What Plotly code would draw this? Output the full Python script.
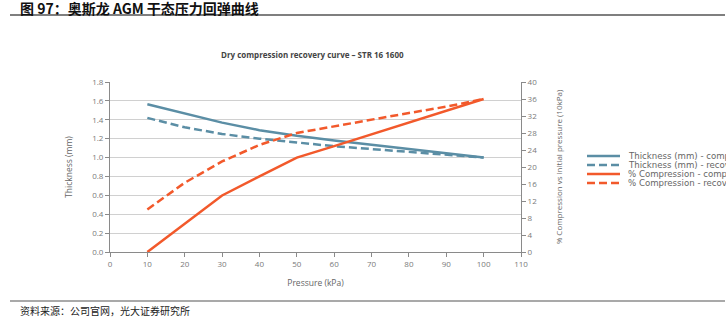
import plotly.graph_objects as go

pressure = [10, 20, 30, 40, 50, 60, 70, 80, 90, 100]
thick_comp = [1.565, 1.47, 1.37, 1.29, 1.23, 1.18, 1.135, 1.09, 1.05, 1.0]
thick_reco = [1.42, 1.32, 1.25, 1.20, 1.16, 1.12, 1.09, 1.06, 1.03, 1.0]
pct_comp = [0.0, 6.7, 13.3, 17.8, 22.2, 24.9, 27.7, 30.5, 33.2, 36.0]
pct_reco = [10.0, 16.3, 21.3, 25.2, 28.0, 29.6, 31.1, 32.7, 34.2, 36.0]

names = ["Thickness (mm) - compression", "Thickness (mm) - recovery",
         "% Compression - compression", "% Compression - recovery"]

BLUE = "#5b8ea5"
ORANGE = "#f2592b"
GRID = "#d0d0d0"
AX = "#8a8a8a"
TICK = "#7a7a7a"
FONT = "Open Sans"
DASH = "8px,4px"

L, R, T, B = 110, 521, 82, 252
W, H = 726, 326
pw, ph = R - L, B - T

def px(x):
    return (x - L) / pw

def py(y):
    return (B - y) / ph

fig = go.Figure()
series = [(thick_comp, "y", BLUE, None), (thick_reco, "y", BLUE, DASH),
          (pct_comp, "y2", ORANGE, None), (pct_reco, "y2", ORANGE, DASH)]
for (vals, ax, col, dash), nm in zip(series, names):
    fig.add_trace(go.Scatter(x=pressure, y=vals, name=nm, mode="lines", yaxis=ax,
                             line=dict(color=col, width=2.5, dash=dash)))

fig.update_layout(
    width=W, height=H,
    margin=dict(l=L, r=W - R, t=T, b=H - B, pad=0),
    paper_bgcolor="white", plot_bgcolor="white",
    font=dict(family=FONT, size=8, color=TICK),
    showlegend=False,
    xaxis=dict(range=[0, 110], tickvals=list(range(0, 111, 10)),
               showgrid=False, zeroline=False, showline=True, linecolor=AX, linewidth=1,
               ticks="outside", ticklen=4, tickcolor=AX, tickfont=dict(size=8, color=TICK),
               title=dict(text="Pressure (kPa)", font=dict(size=8.5, color="#666"), standoff=12)),
    yaxis=dict(range=[0, 1.8], tickvals=[i / 10 for i in range(0, 19, 2)],
               ticktext=["0.0", "0.2", "0.4", "0.6", "0.8", "1.0", "1.2", "1.4", "1.6", "1.8"],
               showgrid=True, gridcolor=GRID, gridwidth=1, zeroline=False,
               showline=True, linecolor=AX, linewidth=1,
               ticks="outside", ticklen=4, tickcolor=AX, tickfont=dict(size=8, color=TICK),
               title=dict(text="Thickness (mm)", font=dict(size=8.5, color="#666"), standoff=18)),
    yaxis2=dict(range=[0, 40], tickvals=list(range(0, 41, 4)), overlaying="y", side="right",
                showgrid=False, zeroline=False, showline=True, linecolor=AX, linewidth=1,
                ticks="outside", ticklen=4, tickcolor=AX, tickfont=dict(size=8, color=TICK),
                title=dict(text="% Compression vs initial pressure (10kPa)",
                           font=dict(size=8, color="#666"), standoff=20)),
)

# manual compact legend (its texts run past the right edge, as in the reference)
leg_rows = [156, 165, 174, 183]
for (vals, ax, col, dash), nm, ry in zip(series, names, leg_rows):
    fig.add_shape(type="line", xref="paper", yref="paper", x0=px(587), x1=px(620),
                  y0=py(ry), y1=py(ry), line=dict(color=col, width=2.5, dash=dash))
    fig.add_annotation(text=nm, xref="paper", yref="paper", x=px(626), y=py(ry),
                       xanchor="left", yanchor="middle", showarrow=False,
                       font=dict(family="DejaVu Sans", size=8.6, color="#666"))

fig.add_annotation(text="<b>Dry compression recovery curve – STR 16 1600</b>",
                   xref="paper", yref="paper", x=px(312), y=py(55),
                   xanchor="center", yanchor="middle", showarrow=False,
                   font=dict(family=FONT, size=8, color="#444"))

fig.add_annotation(text="<b>图 97：奥斯龙 AGM 干态压力回弹曲线</b>",
                   xref="paper", yref="paper", x=px(18), y=py(8),
                   xanchor="left", yanchor="middle", showarrow=False,
                   font=dict(family="Noto Sans CJK SC", size=14, color="#111"))
fig.add_annotation(text="资料来源：公司官网，光大证券研究所",
                   xref="paper", yref="paper", x=px(18), y=py(310),
                   xanchor="left", yanchor="middle", showarrow=False,
                   font=dict(family="Noto Sans CJK SC", size=10, color="#222"))

fig.add_shape(type="line", xref="paper", yref="paper", x0=px(10), x1=px(725),
              y0=py(15), y1=py(15), line=dict(color="#555", width=1.5))
fig.add_shape(type="line", xref="paper", yref="paper", x0=px(10), x1=px(725),
              y0=py(301), y1=py(301), line=dict(color="#555", width=1.2))

fig.write_html("out.html")
